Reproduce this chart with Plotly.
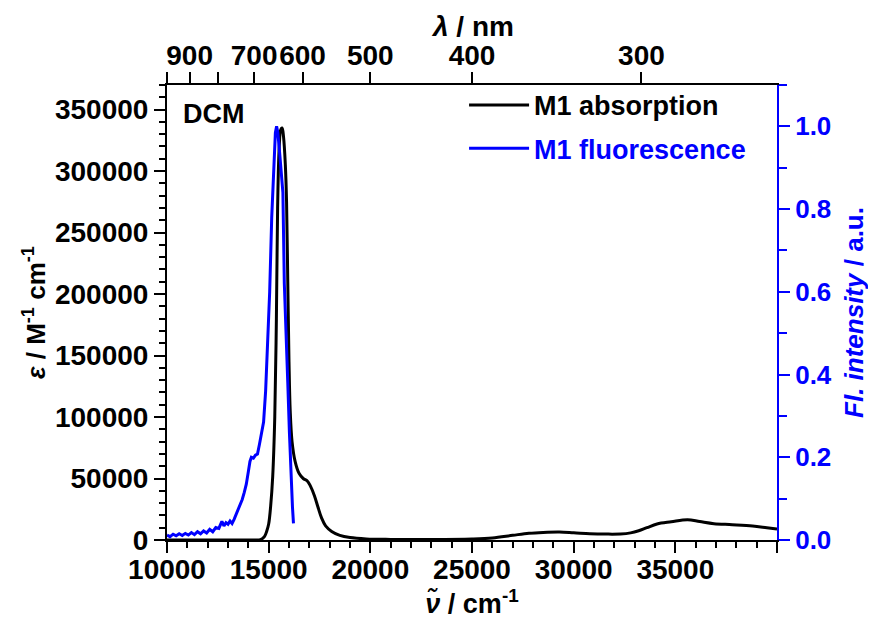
import plotly.graph_objects as go

# M1 absorption in DCM (wavenumber cm-1, epsilon M-1 cm-1)
abs_wn = [10000, 12000, 13500, 14200, 14600, 14800, 14900, 15000, 15100, 15200,
          15300, 15380, 15440, 15520, 15600, 15660, 15730, 15820, 15880, 15940,
          16000, 16060, 16150, 16300, 16500, 16700, 16900, 17050, 17250, 17420,
          17600, 17800, 18100, 18500, 19000, 19800, 21000, 23000, 25000, 26000,
          27000, 27800, 28500, 29300, 30000, 30800, 31600, 32300, 32800, 33200,
          33600, 34100, 34800, 35600, 36200, 36900, 37800, 38800, 39500, 40000]
abs_eps = [0, 0, 0, 0, 300, 3000, 7000, 13000, 28000, 52000,
           100000, 180000, 270000, 320000, 334000, 335000, 328000, 305000, 275000, 210000,
           145000, 105000, 80000, 64000, 54000, 50000, 48000, 44000, 36000, 27000,
           18000, 11500, 7000, 3800, 2000, 900, 500, 400, 800, 1600,
           3800, 5500, 6200, 6500, 5900, 5100, 4800, 4900, 5800, 7500,
           10000, 13000, 14800, 16500, 15000, 13300, 12500, 11400, 10000, 9000]

# M1 fluorescence, normalised
fl_wn = [10000, 10150, 10300, 10450, 10600, 10750, 10900, 11050, 11200, 11350,
         11500, 11650, 11800, 11950, 12100, 12250, 12400, 12550, 12700, 12800,
         12900, 13000, 13100, 13200, 13300, 13400, 13500, 13600, 13700, 13800,
         13900, 14000, 14080, 14150, 14250, 14350, 14450, 14550, 14650, 14750,
         14850, 14950, 15050, 15150, 15250, 15330, 15390, 15450, 15550, 15620,
         15700, 15770, 15850, 15940, 16020, 16100, 16170, 16220]
fl_int = [0.012, 0.008, 0.014, 0.010, 0.015, 0.011, 0.016, 0.012, 0.018, 0.013,
          0.020, 0.015, 0.022, 0.017, 0.026, 0.020, 0.030, 0.028, 0.045, 0.034,
          0.042, 0.038, 0.046, 0.040, 0.050, 0.062, 0.072, 0.085, 0.098, 0.115,
          0.135, 0.165, 0.190, 0.200, 0.198, 0.205, 0.208, 0.232, 0.255, 0.285,
          0.360, 0.470, 0.600, 0.780, 0.920, 0.985, 1.000, 0.985, 0.930, 0.890,
          0.840, 0.620, 0.480, 0.380, 0.260, 0.140, 0.080, 0.040]

# top axis wavelength ticks (nm)
wl_ticks = [1000, 900, 800, 700, 600, 500, 400, 300]
wl_labels = ["", "900", "", "700", "600", "500", "400", "300"]

wn_ticks = [10000, 15000, 20000, 25000, 30000, 35000, 40000]
wn_labels = ["10000", "15000", "20000", "25000", "30000", "35000", ""]

FONT = "Liberation Sans, Arial"
BLUE = "#0000ff"

fig = go.Figure()
fig.add_trace(go.Scatter(x=abs_wn, y=abs_eps, mode="lines", name="M1 absorption",
                         line=dict(color="black", width=3), line_shape="spline",
                         xaxis="x", yaxis="y", legend="legend"))
fig.add_trace(go.Scatter(x=fl_wn, y=fl_int, mode="lines", name="M1 fluorescence",
                         line=dict(color=BLUE, width=3),
                         xaxis="x", yaxis="y2", legend="legend2"))
# dummy trace so the top axis gets drawn
fig.add_trace(go.Scatter(x=[None], y=[None], xaxis="x2", yaxis="y",
                         showlegend=False, hoverinfo="skip"))

tick_common = dict(ticks="outside", ticklen=11, tickwidth=2, showline=True,
                   linewidth=2, showgrid=False, zeroline=False,
                   automargin=False, tickangle=0)

leg_common = dict(xanchor="left", yanchor="top", bgcolor="rgba(0,0,0,0)",
                  itemwidth=60, x=0.487)

fig.update_layout(
    width=868, height=613,
    margin=dict(l=159, r=99, t=77, b=81),
    plot_bgcolor="white", paper_bgcolor="white",
    font=dict(family=FONT, size=28, color="black", weight="bold"),
    xaxis=dict(range=[10000, 40000], tickmode="array", tickvals=wn_ticks,
               ticktext=wn_labels, linecolor="black", tickcolor="black",
               ticklabelstandoff=-8,
               minor=dict(dtick=1000, tick0=10000, ticks="outside", ticklen=6,
                          tickwidth=2, tickcolor="black"),
               title=dict(text="<i>ν̃</i> / cm<sup>-1</sup>", standoff=10,
                          font=dict(size=27)),
               **tick_common),
    xaxis2=dict(range=[10000, 40000], overlaying="x", side="top", anchor="y",
                tickmode="array", tickvals=[1e7 / w for w in wl_ticks],
                ticktext=wl_labels, linecolor="black", tickcolor="black",
                ticklabelstandoff=-4,
                **tick_common),
    yaxis=dict(range=[0, 370000], dtick=50000, tickformat="d",
               linecolor="black", tickcolor="black",
               minor=dict(dtick=10000, ticks="outside", ticklen=6, tickwidth=2,
                          tickcolor="black"),
               title=dict(text="<i>ε</i> / M<sup>-1</sup> cm<sup>-1</sup>",
                          standoff=2, font=dict(size=26)),
               **tick_common),
    yaxis2=dict(range=[0, 1.1], dtick=0.2, tickformat=".1f", overlaying="y",
                side="right", anchor="x", linecolor=BLUE, tickcolor=BLUE,
                tickfont=dict(color=BLUE, size=26),
                minor=dict(dtick=0.1, ticks="outside", ticklen=8, tickwidth=2,
                           tickcolor=BLUE),
                title=dict(text="<i>Fl. intensity</i> / a.u.", standoff=14,
                           font=dict(color=BLUE, size=26)),
                **tick_common),
    legend=dict(y=1.009, font=dict(size=27, color="black"), **leg_common),
    legend2=dict(y=0.914, font=dict(size=27, color=BLUE), **leg_common),
    showlegend=True,
    annotations=[
        dict(text="DCM", x=0.023, y=0.974, xref="paper", yref="paper",
             xanchor="left", yanchor="top", showarrow=False, font=dict(size=27)),
        dict(text="<i>λ</i> / nm", x=0.5, y=1, xref="paper", yref="paper",
             xanchor="center", yanchor="middle", yshift=59, showarrow=False,
             font=dict(size=28)),
    ],
)

fig.write_html("out.html")
